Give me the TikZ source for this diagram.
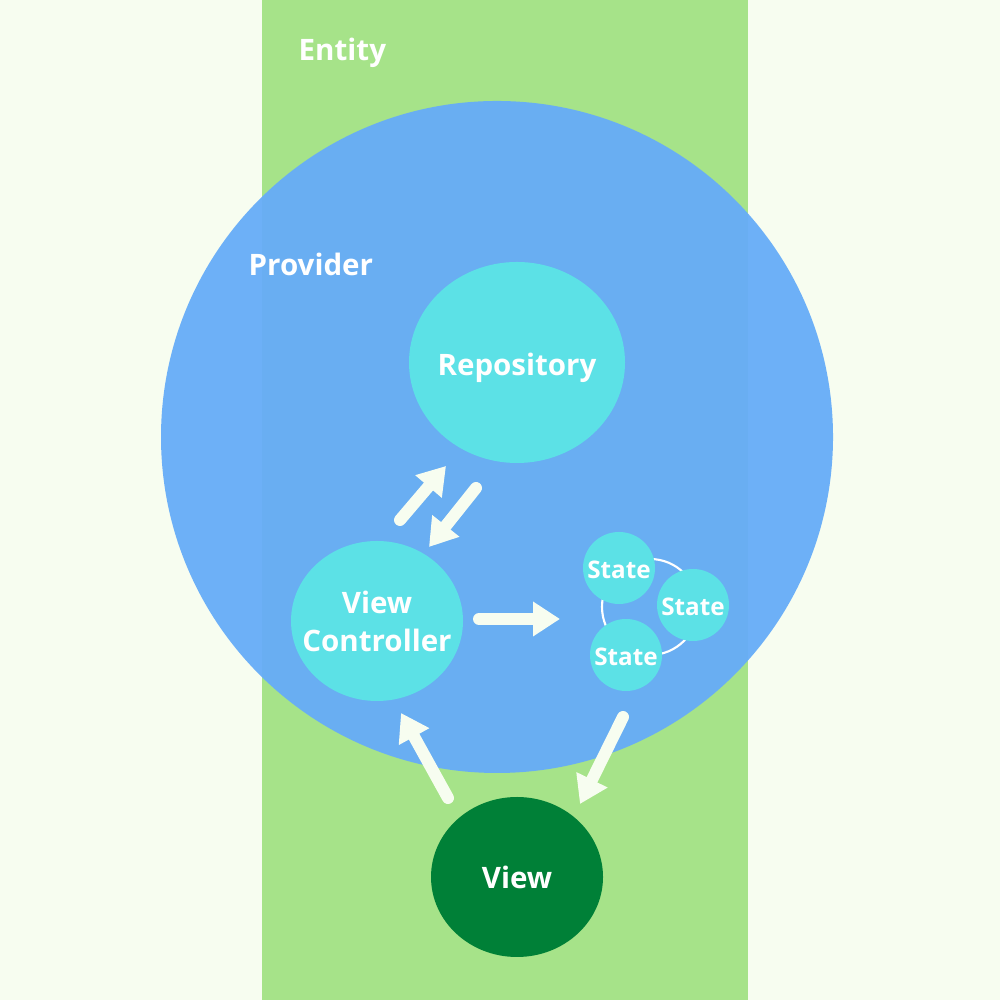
\documentclass[tikz,border=0pt]{standalone}
\usepackage{fontspec}
\setmainfont{Open Sans}
\usetikzlibrary{shapes.geometric,arrows.meta}
\definecolor{colbg}{RGB}{247,253,240}
\definecolor{colentity}{RGB}{166,227,137}
\definecolor{colprovider}{RGB}{102,172,248}
\definecolor{colnode}{RGB}{92,225,230}
\definecolor{colview}{RGB}{0,128,55}
\definecolor{colarrow}{RGB}{247,253,240}
\tikzset{
  bubble/.style={
    ellipse,
    fill=colnode,
    text=white,
    inner sep=-0.2cm,
    align=center,
    font=\bfseries\fontsize{8.4}{10.8}\selectfont
  },
  statebubble/.style={
    circle,
    fill=colnode,
    text=white,
    inner sep=-0.1cm,
    minimum size=0.72cm,
    text height=1.5ex,
    text depth=0.4ex,
    font=\bfseries\fontsize{6.9}{8}\selectfont
  },
  caption/.style={
    anchor=west,
    text=white,
    inner sep=0pt,
    font=\bfseries\fontsize{8.4}{10}\selectfont
  },
  flow/.style={
    draw=colarrow,
    line width=0.12cm,
    line cap=round,
    -{Triangle[length=0.27cm,width=0.33cm]}
  }
}

\begin{document}
\begin{tikzpicture}
  % background and the entity stripe
  \fill[colbg] (0,0) rectangle (10,10);
  \fill[colentity] (2.62,0) rectangle (7.48,10);
  \node[caption] (entity) at (2.98,9.47) {Entity};

  % the provider circle
  \fill[colprovider, opacity=.95] (4.97,5.63) circle (3.36);
  \node[caption] (provider) at (2.48,7.36) {Provider};

  % The nodes
  \node[bubble, minimum width=2.16cm, minimum height=2.01cm,
    text height=1.6ex, text depth=0.2ex]
    (repo) at (5.17,6.375) {Repository};
  \node[bubble, minimum width=1.72cm, minimum height=1.60cm]
    (vc) at (3.77,3.79) {View\\Controller};
  \node[bubble, fill=colview, minimum width=1.72cm, minimum height=1.60cm]
    (view) at (5.17,1.23) {View};

  % the states on their ring
  \draw[white, line width=0.6pt] (6.50,3.93) circle (0.48);
  \node[statebubble] (s1) at (6.19,4.32) {State};
  \node[statebubble] (s2) at (6.93,3.95) {State};
  \node[statebubble] (s3) at (6.26,3.45) {State};

  % arrow ends
  \coordinate (vcup) at (4.00,4.80);
  \coordinate (repodown) at (4.46,5.34);
  \coordinate (repoout) at (4.76,5.12);
  \coordinate (vcin) at (4.29,4.53);
  \coordinate (vcout) at (4.79,3.81);
  \coordinate (statesin) at (5.60,3.81);
  \coordinate (viewout) at (4.48,2.02);
  \coordinate (vcbottom) at (4.01,2.87);
  \coordinate (statesout) at (6.23,2.83);
  \coordinate (viewin) at (5.80,1.96);

  % The arrows
  \draw[flow] (vcup) -- (repodown);
  \draw[flow] (repoout) -- (vcin);
  \draw[flow] (vcout) -- (statesin);
  \draw[flow] (viewout) -- (vcbottom);
  \draw[flow] (statesout) -- (viewin);
\end{tikzpicture}
\end{document}
